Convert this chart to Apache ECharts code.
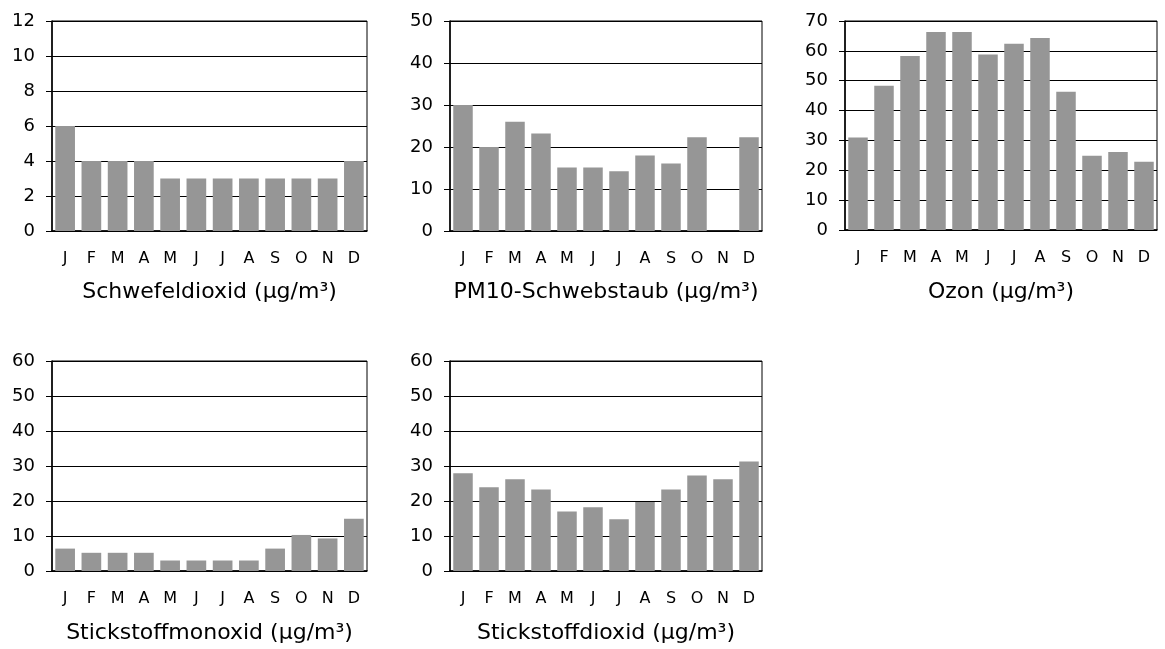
<!DOCTYPE html>
<html>
<head>
<meta charset="utf-8">
<script src="https://cdn.jsdelivr.net/npm/echarts@6/dist/echarts.min.js"></script>
<style>
html,body{margin:0;padding:0;background:#fff;}
#c{width:1165px;height:649px;}
</style>
</head>
<body>
<div id="c"></div>
<script>
// ---- data ----
var months = ['J','F','M','A','M','J','J','A','S','O','N','D'];
var titles = ['Schwefeldioxid (µg/m³)','PM10-Schwebstaub (µg/m³)','Ozon (µg/m³)','Stickstoffmonoxid (µg/m³)','Stickstoffdioxid (µg/m³)'];
var so2  = [6, 4, 4, 4, 3, 3, 3, 3, 3, 3, 3, 4];
var pm10 = [30, 20, 26, 23.2, 15.1, 15.1, 14.2, 18, 16.1, 22.3, null, 22.3];
var o3   = [31, 48.3, 58.3, 66.3, 66.3, 58.8, 62.4, 64.3, 46.3, 24.9, 26.1, 22.9];
var no   = [6.4, 5.2, 5.2, 5.2, 3, 3, 3, 3, 6.4, 10.3, 9.3, 14.9];
var no2  = [27.9, 23.9, 26.2, 23.3, 17, 18.2, 14.8, 19.7, 23.3, 27.3, 26.2, 31.3];
var yMax = [12, 50, 70, 60, 60];
var yStep = [2, 10, 10, 10, 10];

// ---- layout (positions only) ----
var grids = [
  {left: 52,  top: 21,  width: 315, height: 210},
  {left: 450, top: 21,  width: 312, height: 210},
  {left: 845, top: 21,  width: 312, height: 209},
  {left: 52,  top: 361, width: 315, height: 210},
  {left: 450, top: 361, width: 312, height: 210}
];
var titleTop = [281, 281, 281, 622, 622];
var allData = [so2, pm10, o3, no, no2];

var FONT = '"DejaVu Sans", Verdana, sans-serif';
var option = {
  animation: false,
  backgroundColor: '#fff',
  title: [], grid: [], xAxis: [], yAxis: [], series: []
};
grids.forEach(function(g, i){
  option.grid.push({left: g.left, top: g.top, width: g.width, height: g.height,
    show: true, borderColor: '#000', borderWidth: 1, containLabel: false});
  option.title.push({text: titles[i], left: g.left + g.width/2, top: titleTop[i], textAlign: 'center', padding: 0,
    textStyle: {fontFamily: FONT, fontSize: 22, fontWeight: 'normal', color: '#000'}});
  option.xAxis.push({type: 'category', gridIndex: i, data: months,
    axisLine: {show: true, lineStyle: {color: '#000', width: 1.5}},
    axisTick: {show: false},
    axisLabel: {margin: 20, fontFamily: FONT, fontSize: 16, color: '#000', interval: 0},
    splitLine: {show: false}});
  option.yAxis.push({type: 'value', gridIndex: i, min: 0, max: yMax[i], interval: yStep[i],
    axisLine: {show: true, lineStyle: {color: '#000', width: 1.5}},
    axisTick: {show: true, length: 6, lineStyle: {color: '#000', width: 1}},
    axisLabel: {margin: 17, fontFamily: FONT, fontSize: 18, color: '#000'},
    splitLine: {show: true, lineStyle: {color: '#000', width: 1.2}}});
  option.series.push({type: 'bar', xAxisIndex: i, yAxisIndex: i, data: allData[i],
    barCategoryGap: '25%', itemStyle: {color: '#969696'}, z: 3});
});
var chart = echarts.init(document.getElementById('c'), null, {renderer: 'canvas'});
chart.setOption(option);
</script>
</body>
</html>
